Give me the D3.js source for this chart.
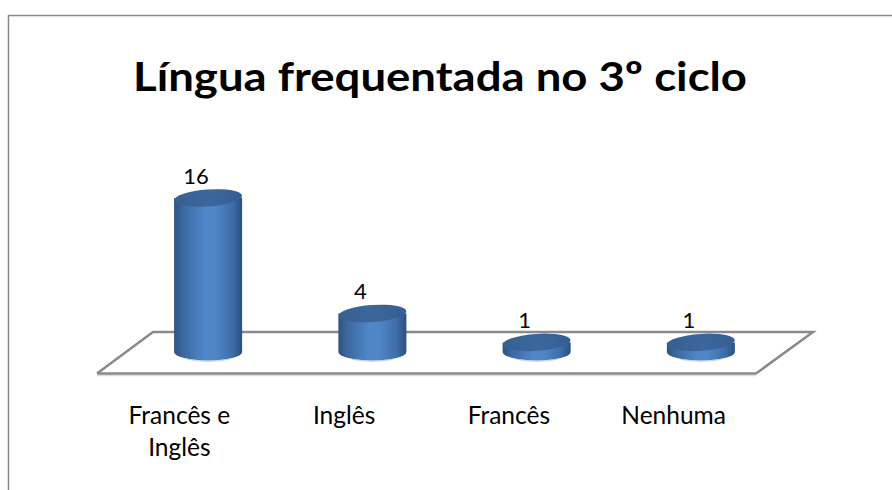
<!DOCTYPE html>
<html><head><meta charset="utf-8">
<script src="https://cdn.jsdelivr.net/npm/d3@7"></script>
<style>html,body{margin:0;padding:0;background:#fff;}svg{display:block;}</style>
</head><body>
<svg id="c" width="892" height="490"></svg>
<script>
const title = "Língua frequentada no 3º ciclo";
const categories = ["Francês e Inglês", "Inglês", "Francês", "Nenhuma"];
const labelLines = [["Francês e", "Inglês"], ["Inglês"], ["Francês"], ["Nenhuma"]];
const values = [16, 4, 1, 1];

const svg = d3.select("#c");
const font = "Lato, 'Open Sans', sans-serif";

// outer chart frame (extends beyond right/bottom edge)
svg.append("rect").attr("x", 8.5).attr("y", 15.5).attr("width", 900).attr("height", 500)
  .attr("fill", "#fff").attr("stroke", "#898989").attr("stroke-width", 1.5);

// title
svg.append("text").attr("x", 440).attr("y", 91).attr("text-anchor", "middle")
  .attr("font-family", font).attr("font-weight", "bold").attr("font-size", 41)
  .attr("textLength", 614).attr("lengthAdjust", "spacingAndGlyphs")
  .attr("fill", "#000").text(title);

// back-plane band (bars) and front-edge band (labels), oblique floor
const x = d3.scaleBand().domain(categories).range([126, 783]);
const xFront = d3.scaleBand().domain(categories).range([97, 756]);
const y = d3.scaleLinear().domain([0, 16]).range([352, 198]);

// floor
const floorBackY = 332, floorFrontY = 373.5;
const floor = svg.append("g");
floor.append("path")
  .attr("d", `M97,${floorFrontY} L153,${floorBackY} L813,${floorBackY} L756,${floorFrontY}`)
  .attr("fill", "none").attr("stroke", "#8a8a8a").attr("stroke-width", 2.5).attr("stroke-linejoin", "miter");
floor.append("line").attr("x1", 97).attr("x2", 756).attr("y1", floorFrontY + 2).attr("y2", floorFrontY + 2)
  .attr("stroke", "#dcdcdc").attr("stroke-width", 1.5);
floor.append("line").attr("x1", 97).attr("x2", 756).attr("y1", floorFrontY).attr("y2", floorFrontY)
  .attr("stroke", "#8a8a8a").attr("stroke-width", 2.5);

// gradients
const defs = svg.append("defs");
const g1 = defs.append("linearGradient").attr("id", "body").attr("x1", "0").attr("x2", "1").attr("y1", "0").attr("y2", "0");
[["0%", "#2c5282"], ["12%", "#3a679f"], ["45%", "#5087c8"], ["60%", "#4f86c6"], ["85%", "#3e6ea9"], ["100%", "#2b5080"]]
  .forEach(([o, c]) => g1.append("stop").attr("offset", o).attr("stop-color", c));
const g2 = defs.append("linearGradient").attr("id", "top").attr("x1", "0").attr("x2", "1").attr("y1", "0").attr("y2", "0");
[["0%", "#365f93"], ["50%", "#3d679c"], ["100%", "#355d90"]]
  .forEach(([o, c]) => g2.append("stop").attr("offset", o).attr("stop-color", c));

const bw = 68, rx = bw / 2, ry = 8.5;
const bars = svg.append("g");
categories.forEach((c, i) => {
  const cx = x(c) + x.bandwidth() / 2;
  const yb = y(0), yt = y(values[i]);
  const g = bars.append("g");
  g.append("path")
    .attr("d", `M${cx - rx},${yt} L${cx - rx},${yb} A${rx},${ry} 0 0 0 ${cx + rx},${yb} L${cx + rx},${yt} Z`)
    .attr("fill", "url(#body)");
  g.append("path")
    .attr("d", `M${cx - rx * 0.6},${yb + ry * 0.85} A${rx},${ry} 0 0 0 ${cx + rx * 0.6},${yb + ry * 0.85}`)
    .attr("fill", "none").attr("stroke", "#8fb4e3").attr("stroke-width", 1.2).attr("opacity", 0.6);
  g.append("ellipse").attr("cx", cx).attr("cy", yt).attr("rx", rx).attr("ry", ry)
    .attr("transform", `rotate(-4 ${cx} ${yt})`)
    .attr("fill", "url(#top)");
  svg.append("text").attr("x", cx - 12).attr("y", yt - ry - 6).attr("text-anchor", "middle")
    .attr("font-family", font).attr("font-size", 22).attr("fill", "#000").text(values[i]);
});

// category labels (centred on the front edge of the floor)
categories.forEach((c, i) => {
  const cx = xFront(c) + xFront.bandwidth() / 2;
  const tx = svg.append("text").attr("x", cx).attr("y", 424).attr("text-anchor", "middle")
    .attr("font-family", font).attr("font-size", 24.5).attr("fill", "#000");
  labelLines[i].forEach((l, j) => tx.append("tspan").attr("x", cx).attr("dy", j === 0 ? 0 : 32).text(l));
});
</script>
</body></html>
